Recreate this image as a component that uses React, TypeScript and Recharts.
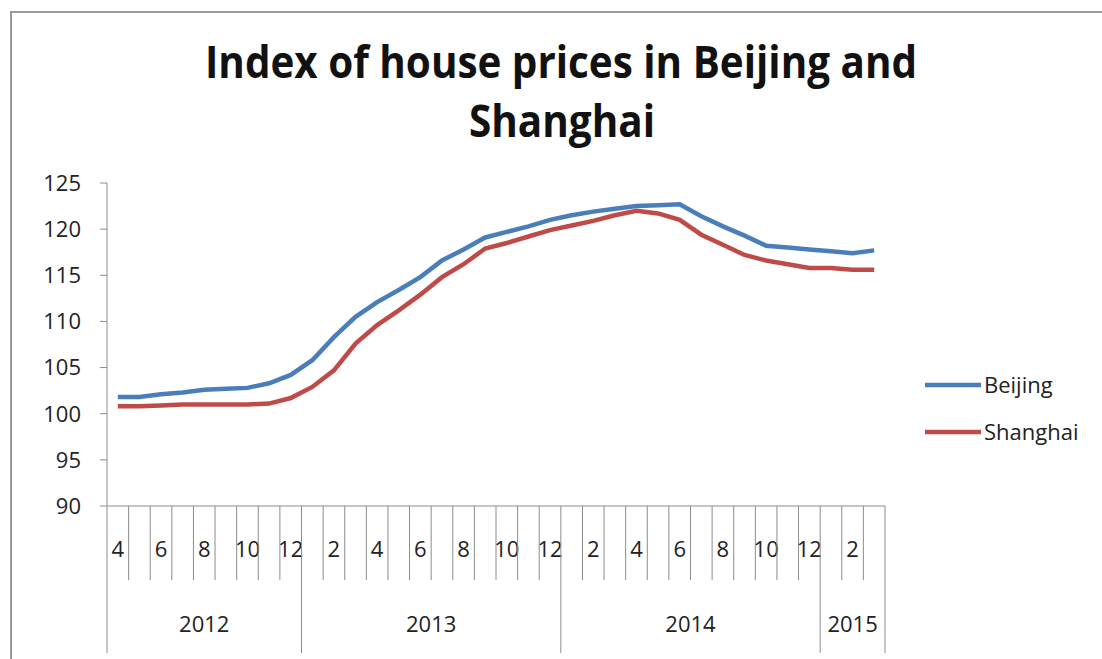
import { LineChart, Line, XAxis, YAxis } from 'recharts';

// months from Apr 2012 to Mar 2015
const monthLabels = [
  '4', '5', '6', '7', '8', '9', '10', '11', '12',
  '1', '2', '3', '4', '5', '6', '7', '8', '9', '10', '11', '12',
  '1', '2', '3', '4', '5', '6', '7', '8', '9', '10', '11', '12',
  '1', '2', '3',
];
const years = ['2012', '2013', '2014', '2015'];
const monthsPerYear = [9, 12, 12, 3];

const beijing = [
  101.8, 101.8, 102.1, 102.3, 102.6, 102.7, 102.8, 103.3, 104.2,
  105.8, 108.3, 110.5, 112.1, 113.4, 114.8, 116.6, 117.8, 119.1, 119.7, 120.3, 121.0,
  121.5, 121.9, 122.2, 122.5, 122.6, 122.7, 121.4, 120.3, 119.3, 118.2, 118.0, 117.8,
  117.6, 117.4, 117.7,
];
const shanghai = [
  100.8, 100.8, 100.9, 101.0, 101.0, 101.0, 101.0, 101.1, 101.7,
  102.9, 104.7, 107.6, 109.6, 111.2, 112.9, 114.8, 116.2, 117.9, 118.5, 119.2, 119.9,
  120.4, 120.9, 121.5, 122.0, 121.7, 121.0, 119.4, 118.3, 117.2, 116.6, 116.2, 115.8,
  115.8, 115.6, 115.6,
];
const yTicks = [90, 95, 100, 105, 110, 115, 120, 125];

const series = [
  { key: 'Beijing', color: '#4A7EBB' },
  { key: 'Shanghai', color: '#BE4B48' },
];

const data = monthLabels.map((m, i) => ({
  id: i,
  month: m,
  Beijing: beijing[i],
  Shanghai: shanghai[i],
}));

// year segment starts
const yearStarts: number[] = [];
monthsPerYear.reduce((acc, n) => {
  yearStarts.push(acc);
  return acc + n;
}, 0);

const W = 1102;
const H = 659;
const PLOT_LEFT = 107;
const PLOT_RIGHT = 885;
const PLOT_TOP = 183;
const AXIS_Y = 506;
const YAXIS_W = 70;
const XAXIS_H = 150;
const BAND = (PLOT_RIGHT - PLOT_LEFT) / monthLabels.length;
const GRAY = '#8c8c8c';
const FONT = '"Open Sans", sans-serif';

function MonthTick(props: any) {
  const { x, index } = props;
  const left = x - BAND / 2;
  const yearIdx = yearStarts.indexOf(index);
  const isYearStart = yearIdx >= 0;
  const last = index === monthLabels.length - 1;
  return (
    <g>
      <line x1={left} x2={left} y1={AXIS_Y} y2={isYearStart ? 653 : 580} stroke={GRAY} strokeWidth={1} />
      {last && (
        <line x1={x + BAND / 2} x2={x + BAND / 2} y1={AXIS_Y} y2={653} stroke={GRAY} strokeWidth={1} />
      )}
      {index % 2 === 0 && (
        <text x={x} y={557} textAnchor="middle" fontSize={22} fontFamily={FONT} fill="#222">
          {monthLabels[index]}
        </text>
      )}
      {isYearStart && (
        <text
          x={left + (monthsPerYear[yearIdx] * BAND) / 2}
          y={632}
          textAnchor="middle"
          fontSize={22}
          fontFamily={FONT}
          fill="#222"
        >
          {years[yearIdx]}
        </text>
      )}
    </g>
  );
}

export default function App() {
  return (
    <div style={{ position: 'absolute', left: 0, top: 0, width: W, height: H, background: '#fff', overflow: 'hidden' }}>
      <div
        style={{
          position: 'absolute',
          left: 10,
          top: 11,
          width: W,
          height: H,
          borderTop: '2px solid #9a9a9a',
          borderLeft: '2px solid #9a9a9a',
        }}
      />
      <svg width={W} height={H} style={{ position: 'absolute', left: 0, top: 0 }}>
        <text x={561} y={78} textAnchor="middle" fontSize={44} fontWeight="bold" fontFamily={FONT} fill="#111"
          textLength={712} lengthAdjust="spacingAndGlyphs">
          Index of house prices in Beijing and
        </text>
        <text x={562} y={137} textAnchor="middle" fontSize={44} fontWeight="bold" fontFamily={FONT} fill="#111"
          textLength={186} lengthAdjust="spacingAndGlyphs">
          Shanghai
        </text>
        {series.map((s, i) => (
          <g key={s.key}>
            <line x1={925} x2={981} y1={385 + i * 47} y2={385 + i * 47} stroke={s.color} strokeWidth={4.5} />
            <text x={984} y={393 + i * 47} fontSize={22} fontFamily={FONT} fill="#222">
              {s.key}
            </text>
          </g>
        ))}
      </svg>
      <div style={{ position: 'absolute', left: 0, top: 0 }}>
        <LineChart
          width={W}
          height={H}
          data={data}
          margin={{
            top: PLOT_TOP,
            right: W - PLOT_RIGHT,
            left: PLOT_LEFT - YAXIS_W,
            bottom: H - AXIS_Y - XAXIS_H,
          }}
        >
          <XAxis
            dataKey="id"
            type="category"
            interval={0}
            height={XAXIS_H}
            padding={{ left: BAND / 2, right: BAND / 2 }}
            tickLine={false}
            axisLine={{ stroke: GRAY }}
            tick={<MonthTick />}
          />
          <YAxis
            width={YAXIS_W}
            domain={[90, 125]}
            ticks={yTicks}
            interval={0}
            tickSize={7}
            tickMargin={19}
            axisLine={{ stroke: GRAY }}
            tickLine={{ stroke: GRAY }}
            tick={{ fontSize: 22, fontFamily: FONT, fill: '#222' }}
          />
          {series.map((s) => (
            <Line
              key={s.key}
              dataKey={s.key}
              type="linear"
              stroke={s.color}
              strokeWidth={4.5}
              dot={false}
              isAnimationActive={false}
            />
          ))}
        </LineChart>
      </div>
    </div>
  );
}
